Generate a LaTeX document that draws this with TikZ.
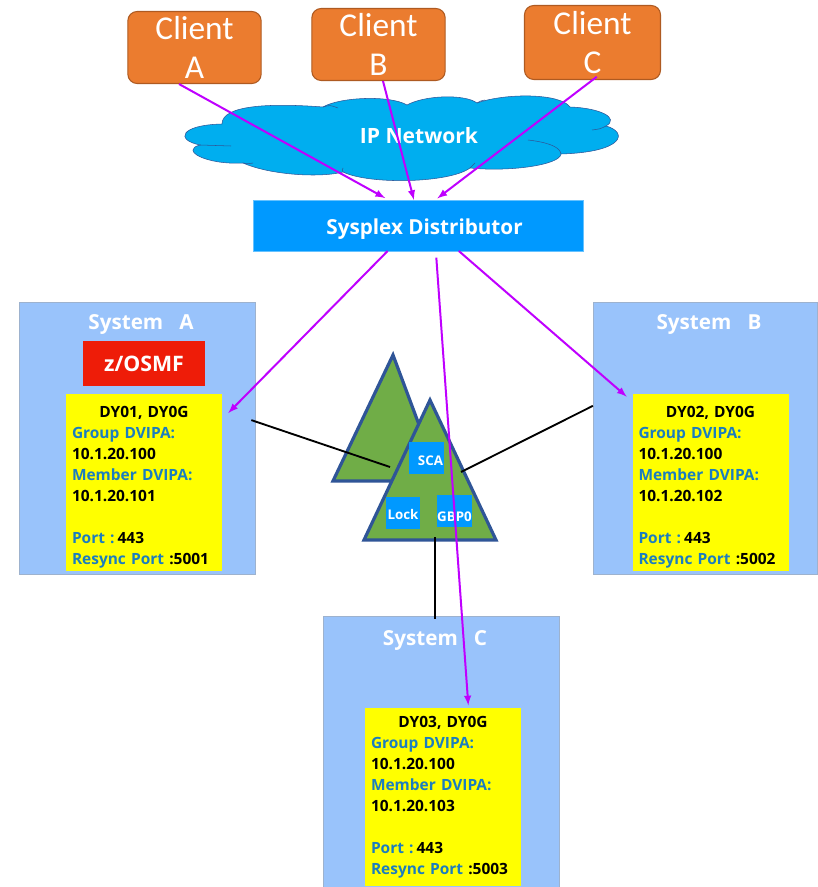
\documentclass[tikz,border=0pt]{standalone}
\usepackage{fontspec}
\setmainfont{Open Sans}
\newfontfamily\clientfont{Carlito}
\usetikzlibrary{arrows,positioning}
\definecolor{clientfill}{HTML}{EB7C2F}
\definecolor{clientedge}{HTML}{AE5A21}
\definecolor{cloudfill}{HTML}{00AEEF}
\definecolor{darkedge}{HTML}{2F5597}
\definecolor{sdblue}{HTML}{0099FF}
\definecolor{sysblue}{HTML}{99C3FB}
\definecolor{sysedge}{HTML}{9DB2CE}
\definecolor{osmfred}{HTML}{EE1C08}
\definecolor{cfgreen}{HTML}{70AD47}
\definecolor{linkpurple}{HTML}{BF00FF}
\definecolor{labelblue}{HTML}{1B7DBF}
\definecolor{lparyellow}{HTML}{FFFF00}
\newcommand{\dvipatext}[4]{%
    {\centering\rule{0pt}{#4}#1\par}%
    {\color{labelblue}Group DVIPA:}\\
    10.1.20.100\\
    {\color{labelblue}Member DVIPA:}\\
    10.1.20.#2\\[15.75pt]
    {\color{labelblue}Port :}\hspace{-3.5pt} 443\\
    {\color{labelblue}Resync Port} :#3}
\begin{document}
\begin{tikzpicture}
                [
                    x=0.75pt, y=-0.75pt,
                    clientnode/.style={rectangle, rounded corners=7pt, draw=clientedge, fill=clientfill, thick, text=white, minimum width=100pt, minimum height=54pt, inner sep=0pt, align=center, font=\clientfont\fontsize{25}{29}\selectfont},
                    sdnode/.style={rectangle, fill=sdblue, draw=sdblue!60!white, very thin, text=white, minimum width=247.5pt, minimum height=38pt, font=\fontsize{15.5}{17}\bfseries\selectfont},
                    systemnode/.style={rectangle, fill=sysblue, draw=sysedge, very thin, minimum width=177pt, minimum height=204pt},
                    systemtitle/.style={text=white, font=\fontsize{15.5}{18}\bfseries\selectfont},
                    osmfnode/.style={rectangle, fill=osmfred, text=white, minimum width=91.5pt, minimum height=34pt, font=\fontsize{16}{19}\bfseries\selectfont},
                    lparnode/.style={rectangle, fill=lparyellow, text width=108pt, inner xsep=4.5pt, inner ysep=0pt, minimum height=133pt, align=left, font=\fontsize{11.6}{15.75}\bfseries\selectfont},
                    cfbox/.style={rectangle, fill=sdblue, text=white, inner sep=0pt, minimum width=26pt, minimum height=24pt, font=\fontsize{10}{11}\bfseries\selectfont},
                    triangle/.style={draw=darkedge, fill=cfgreen, line width=2.4pt, line join=miter},
                    link/.style={-latex, draw=linkpurple, line width=1.5pt},
                    wire/.style={draw=black, line width=1.4pt}
                ]
                \useasboundingbox (0,0) rectangle (817,887);

                \node [clientnode] (clientA) at (194.5,47.5) {Client\\A};
                \node [clientnode] (clientB) at (378.5,44.5) {Client\\B};
                \node [clientnode, minimum width=102pt, minimum height=55.5pt] (clientC) at (592.5,42.5) {Client\\C};

                % cloud
                \draw [fill=cloudfill, draw=darkedge, thin] (222,124)
                    .. controls (222,105) and (270,103) .. (323,107)
                    .. controls (340,97) and (390,95) .. (407,105)
                    .. controls (425,95) and (465,94) .. (477,103)
                    .. controls (505,93) and (560,93) .. (570,107)
                    .. controls (600,108) and (620,118) .. (606,126)
                    .. controls (628,132) and (625,152) .. (561,154)
                    .. controls (560,165) and (510,172) .. (470,168)
                    .. controls (450,183) and (370,185) .. (343,172)
                    .. controls (320,178) and (270,175) .. (243,163)
                    .. controls (205,165) and (180,150) .. (200,145)
                    .. controls (175,140) and (180,125) .. (222,124) -- cycle;
                \draw [draw=darkedge, thin] (323,107) .. controls (330,105) .. (338,108);
                \draw [draw=darkedge, thin] (477,103) .. controls (480,101) .. (485,100);
                \draw [draw=darkedge, thin] (606,126) .. controls (600,129) .. (592,130);
                \draw [draw=darkedge, thin] (561,154) .. controls (560,146) and (545,142) .. (528,140);
                \draw [draw=darkedge, thin] (470,168) .. controls (472,166) .. (475,163);
                \draw [draw=darkedge, thin] (343,172) .. controls (342,170) .. (343,168);
                \draw [draw=darkedge, thin] (243,163) .. controls (247,164) .. (253,163);
                \draw [draw=darkedge, thin] (200,145) .. controls (215,146) .. (231,146);
                \node [text=white, font=\fontsize{15.8}{18}\bfseries\selectfont] (network) at (419,136) {IP Network};

                \node [sdnode] (sd) at (418,225.5) {\hspace*{9.8pt}\raisebox{-7pt}[0pt][0pt]{Sysplex Distributor}};

                \node [systemnode] (sysA) at (137,438) {};
                \node [systemnode, minimum width=168pt] (sysB) at (705,438) {};
                \node [systemnode] (sysC) at (441.5,752) {};
                \node [systemtitle] (titleA) at (141,324.5) {System\ \ \ A};
                \node [systemtitle] (titleB) at (709,324.5) {System\ \ \ B};
                \node [systemtitle] (titleC) at (435,640.5) {System\ \ \ C};
                \node [osmfnode] (osmf) at (144,363.5) {z/OSMF};

                \node [lparnode] (dyA) at (144,482.5) {\dvipatext{DY01, DY0G}{101}{5001}{15.5pt}};
                \node [lparnode] (dyB) at (710.5,482.5) {\dvipatext{DY02, DY0G}{102}{5002}{15.5pt}};
                \node [lparnode] (dyC) at (443,797) {\dvipatext{DY03, DY0G}{103}{5003}{0pt}};

                % coupling facilities
                \draw [triangle] (393,355) -- (440,481) -- (333,481) -- cycle;
                \draw [triangle] (430,400) -- (496,540) -- (364,540) -- cycle;
                \node [cfbox] (sca) at (426.5,457.5) {\hspace*{6pt}\raisebox{-6.2pt}[0pt][0pt]{SCA}};
                \node [cfbox] (lock) at (403,513) {\raisebox{-5.1pt}[0pt][0pt]{Lock}};
                \node [cfbox] (gbp) at (454.5,510.5) {\raisebox{-8.5pt}[0pt][0pt]{GBP0}};
                \coordinate (cfA) at (390,467);
                \coordinate (cfB) at (461,472);
                \coordinate (cfC) at (435,537);

                \draw [wire, shorten <=-3pt] (sysA.8) -- (cfA);
                \draw [wire] (sysB.164) -- (cfB);
                \draw [wire, shorten >=-2pt] (cfC) -- (cfC |- sysC.north);

                \draw [link, shorten >=3pt] (clientA.247) -- (sd.139);
                \draw [link] (clientB.277) -- (sd.99);
                \draw [link, shorten <=-4pt, shorten >=2pt] (clientC.south) -- (sd.56.3);
                \draw [link, shorten >=6.4pt] (sd.220.4) -- (dyA.39.6);
                \draw [link, shorten >=5.5pt] (sd.328) -- (dyB.134.6);
                \draw [link, shorten <=5pt, shorten >=2pt] (sd.305) -- (dyC.74.7);

            \end{tikzpicture}
\end{document}
